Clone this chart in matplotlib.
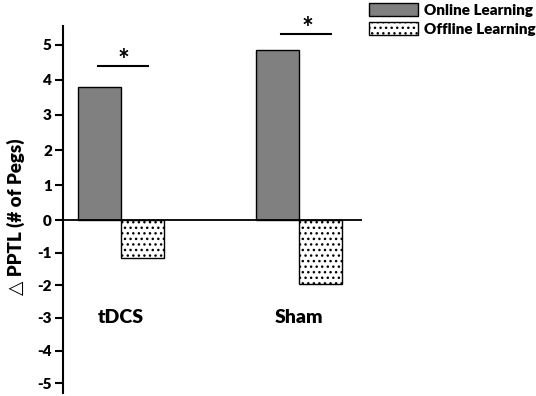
import matplotlib
matplotlib.use("Agg")
import matplotlib.pyplot as plt
import numpy as np

plt.rcParams['font.family'] = ['Lato', 'DejaVu Sans']
plt.rcParams['font.weight'] = 'bold'
plt.rcParams['hatch.linewidth'] = 1.0

groups = ['tDCS', 'Sham']
online = [3.8, 4.85]
offline = [-1.15, -1.95]
series_names = ['Online Learning', 'Offline Learning']
yticks = [-5, -4, -3, -2, -1, 0, 1, 2, 3, 4, 5]

# significance bars: (x0, x1, y) per group
sig = [(-0.13, 0.15, 4.4), (0.90, 1.18, 5.31)]

# negative half of the axis is drawn a bit compressed in the original
k = 32.6 / 35.0
def fwd(y):
    y = np.asarray(y, dtype=float)
    return np.where(y >= 0, y, y * k)
def inv(y):
    y = np.asarray(y, dtype=float)
    return np.where(y >= 0, y, y / k)

fig = plt.figure(figsize=(5.36, 3.96), dpi=100)
ax = fig.add_axes([63/536, 1 - 393/396, (362 - 63)/536, (393 - 26)/396])
ax.set_yscale('function', functions=(fwd, inv))

x = np.arange(len(groups))
w = 0.239
b1 = ax.bar(x - w/2, online, w, color='#808080', edgecolor='black', linewidth=1.0,
            label=series_names[0])
b2 = ax.bar(x + w/2, offline, w, color='white', edgecolor='black', linewidth=1.0,
            hatch='...', label=series_names[1])

ax.axhline(0, color='black', lw=1.3)

for i, g in enumerate(groups):
    ax.text(x[i], -3.0, g, ha='center', va='center', fontsize=14, fontweight='heavy')

for (x0, x1, yy) in sig:
    ax.plot([x0, x1], [yy, yy], color='black', lw=1.5, clip_on=False)
    ax.text((x0 + x1)/2 + 0.005, yy - 0.22, '*', ha='center', va='bottom',
            fontsize=20, fontweight='bold', clip_on=False)

ax.set_xlim(-0.326, 1.354)
ax.set_ylim(-5.3, 5.54)
ax.set_xticks([])
ax.set_yticks(yticks)
ax.set_yticklabels([str(t) for t in yticks], fontweight='heavy', fontsize=11)
ax.tick_params(axis='y', direction='out', length=6, width=1.5, pad=2)
for s in ['top', 'right', 'bottom']:
    ax.spines[s].set_visible(False)
ax.spines['left'].set_linewidth(1.5)

ax.set_ylabel('\u25B3 PPTL (# of Pegs)', fontsize=13.5, fontweight='heavy')
ax.yaxis.set_label_coords(-0.128, 0.48)

fig.legend(handles=[b1, b2], loc='upper left', bbox_to_anchor=(366/536, 1.0),
           frameon=False, handlelength=3.2, handleheight=0.9,
           handletextpad=0.4, labelspacing=0.35, borderaxespad=0, borderpad=0.2,
           prop={'weight': 'heavy', 'size': 11})

fig.savefig('out.png', dpi=100)
